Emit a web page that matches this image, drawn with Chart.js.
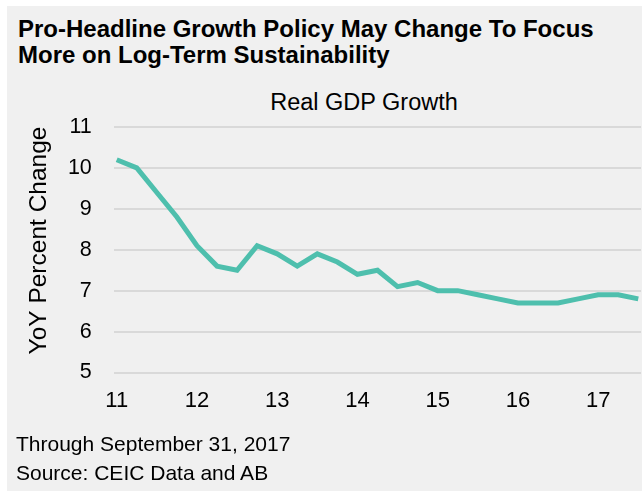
<!DOCTYPE html>
<html>
<head>
<meta charset="utf-8">
<script src="https://cdn.jsdelivr.net/npm/chart.js@4.4.1/dist/chart.umd.min.js"></script>
<style>
  html, body { margin: 0; padding: 0; background: #fff; }
  body { width: 642px; height: 498px; position: relative; overflow: hidden; font-family: "Liberation Sans", Arial, sans-serif; }
  #panel { position: absolute; left: 7px; top: 6px; right: 0; bottom: 7px; background: #f0f0f0; }
  #heading { position: absolute; left: 18px; top: 16px; font-size: 24px; font-weight: bold; line-height: 26px; color: #000; white-space: nowrap; }
  #subtitle { position: absolute; left: 214px; width: 300px; top: 89.4px; text-align: center; font-size: 23.5px; line-height: 27px; color: #000; }
  #notes { position: absolute; left: 16px; top: 429px; font-size: 21px; line-height: 29px; color: #000; }
  #wrap { position: absolute; left: 0; top: 0; width: 642px; height: 498px; }
</style>
</head>
<body>
<div id="panel"></div>
<div id="heading">Pro-Headline Growth Policy May Change To Focus<br>More on Log-Term Sustainability</div>
<div id="subtitle">Real GDP Growth</div>
<div id="wrap"><canvas id="gdpChart"></canvas></div>
<div id="notes">Through September 31, 2017<br>Source: CEIC Data and AB</div>
<script>
/* Real GDP growth, quarterly, 2011 Q1 - 2017 Q3 (x = year, last two digits) */
const quarters = [11.00, 11.25, 11.50, 11.75, 12.00, 12.25, 12.50, 12.75,
                  13.00, 13.25, 13.50, 13.75, 14.00, 14.25, 14.50, 14.75,
                  15.00, 15.25, 15.50, 15.75, 16.00, 16.25, 16.50, 16.75,
                  17.00, 17.25, 17.50];
const gdpGrowth = [10.2, 10.0, 9.4, 8.8, 8.1, 7.6, 7.5, 8.1,
                   7.9, 7.6, 7.9, 7.7, 7.4, 7.5, 7.1, 7.2,
                   7.0, 7.0, 6.9, 6.8, 6.7, 6.7, 6.7, 6.8,
                   6.9, 6.9, 6.8];
const yearTicks = [11, 12, 13, 14, 15, 16, 17];
const yTicks    = [5, 6, 7, 8, 9, 10, 11];
const yTitle    = 'YoY Percent Change';

const FONT = '"Liberation Sans", Arial, sans-serif';
const points = quarters.map((q, i) => ({ x: q, y: gdpGrowth[i] }));

// rotated axis title, sits a bit above the axis middle like the original
const axisTitle = {
  id: 'axisTitle',
  afterDraw(chart) {
    const ctx = chart.ctx;
    ctx.save();
    ctx.font = '24.5px ' + FONT;
    ctx.fillStyle = '#000';
    ctx.textAlign = 'center';
    ctx.textBaseline = 'alphabetic';
    ctx.translate(45.5, 240.5);
    ctx.rotate(-Math.PI / 2);
    ctx.fillText(yTitle, 0, 0);
    ctx.restore();
  }
};

new Chart(document.getElementById('gdpChart'), {
  type: 'line',
  data: {
    datasets: [{
      label: 'Real GDP Growth',
      data: points,
      borderColor: '#4ebfad',
      borderWidth: 5,
      pointRadius: 0,
      tension: 0,
      fill: false,
      borderJoinStyle: 'miter'
    }]
  },
  options: {
    responsive: true,
    maintainAspectRatio: false,
    animation: false,
    layout: { padding: { left: 0, right: 1, top: 127, bottom: 0 } },
    plugins: {
      legend: { display: false },
      tooltip: { enabled: false }
    },
    scales: {
      x: {
        type: 'linear',
        min: 10.97,
        max: 17.534,
        afterBuildTicks: axis => { axis.ticks = yearTicks.map(v => ({ value: v })); },
        afterFit: axis => { axis.height = 125.5; },
        ticks: { color: '#000', font: { family: FONT, size: 22 }, padding: 15, maxRotation: 0, includeBounds: false },
        grid: { display: false, drawTicks: false },
        border: { display: false }
      },
      y: {
        min: 5,
        max: 11,
        afterBuildTicks: axis => { axis.ticks = yTicks.map(v => ({ value: v })); },
        afterFit: axis => { axis.width = 114.3; },
        ticks: { color: '#000', font: { family: FONT, size: 21.5 }, padding: 22.5 },
        grid: { color: '#d9d9d9', lineWidth: 2, drawTicks: false },
        border: { display: false }
      }
    }
  },
  plugins: [axisTitle]
});
</script>
</body>
</html>
